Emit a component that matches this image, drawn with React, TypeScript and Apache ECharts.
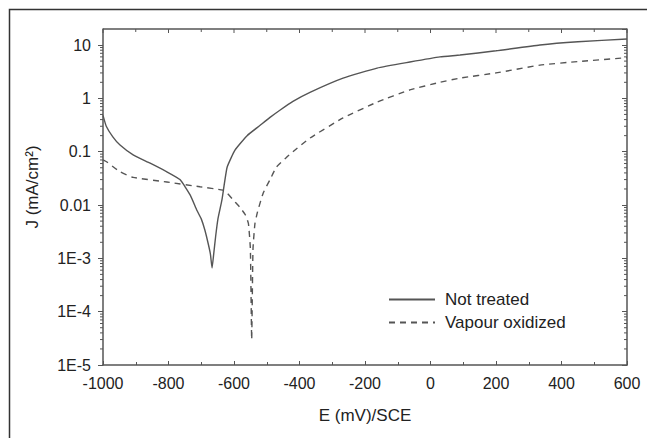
import React, { useEffect, useRef } from "react";
import * as echarts from "echarts";

// Potential (mV vs SCE)
const notTreatedE = [-1000, -990, -970, -948, -908, -856, -805, -765, -734, -713, -700, -689, -678, -672, -667, -662, -656, -649, -637, -621, -597, -560, -521, -490, -460, -420, -368, -267, -163, -63, 29, 90, 200, 334, 450, 600];
// Current density (mA/cm²)
const notTreatedJ = [0.48, 0.3, 0.19, 0.133, 0.087, 0.061, 0.042, 0.03, 0.0155, 0.0079, 0.0055, 0.0034, 0.0018, 0.0012, 0.00066, 0.0012, 0.0026, 0.0055, 0.0123, 0.051, 0.107, 0.2, 0.31, 0.44, 0.6, 0.88, 1.3, 2.4, 3.7, 4.8, 6.0, 6.5, 7.8, 10, 11.5, 13];

const vapourE = [-1000, -988, -948, -908, -805, -704, -634, -621, -600, -582, -565, -556, -550, -546, -542, -536, -528, -511, -490, -470, -440, -420, -368, -267, -163, -63, 29, 90, 200, 334, 450, 600];
const vapourJ = [0.07, 0.064, 0.042, 0.033, 0.027, 0.022, 0.019, 0.0167, 0.012, 0.0091, 0.0065, 0.0045, 0.0015, 0.00003, 0.0015, 0.0045, 0.0075, 0.0167, 0.03, 0.052, 0.078, 0.1, 0.18, 0.43, 0.85, 1.44, 2.0, 2.4, 3.0, 4.2, 4.9, 5.8];

const seriesNames = ["Not treated", "Vapour oxidized"];

const xMin = -1000;
const xMax = 600;
const xInterval = 200;
const xTopTicks = [-1000, -900, -800, -700, -600, -500, -400, -300, -200, -100, 0, 100, 200, 300, 400, 500, 600];
const yMin = 1e-5;
const yMax = 20;
const yTickValues = [1e-5, 1e-4, 1e-3, 0.01, 0.1, 1, 10];
const yTickLabels = ["1E-5", "1E-4", "1E-3", "0.01", "0.1", "1", "10"];
const yMinorTicks: number[] = [];
for (let d = -5; d <= 1; d++) {
  for (let m = 2; m <= 9; m++) {
    const v = m * Math.pow(10, d);
    if (v < yMax) yMinorTicks.push(v);
  }
}

const FONT = "'Liberation Sans', Arial, sans-serif";
const AXIS = "#555";
const TEXT = "#222";
const LINE = "#555";

export default function App() {
  const ref = useRef<HTMLDivElement>(null);
  useEffect(() => {
    if (!ref.current) return;
    const chart = echarts.init(ref.current, null, { renderer: "svg" });
    const yLabel = (v: number) => {
      for (let i = 0; i < yTickValues.length; i++) {
        if (Math.abs(Math.log10(v) - Math.log10(yTickValues[i])) < 1e-6) return yTickLabels[i];
      }
      return "";
    };
    chart.setOption({
      animation: false,
      backgroundColor: "#fff",
      textStyle: { fontFamily: FONT },
      grid: { left: 103, right: 20, top: 29, bottom: 73 },
      graphic: [
        {
          type: "rect",
          left: 7,
          top: 7,
          shape: { x: 0, y: 0, width: 700, height: 500 },
          style: { fill: null, stroke: "#333", lineWidth: 1.5 },
          silent: true,
        },
      ],
      legend: {
        data: seriesNames,
        orient: "vertical",
        left: 388,
        top: 291,
        itemWidth: 46,
        itemHeight: 12,
        itemGap: 6,
        padding: 0,
        itemStyle: { opacity: 0 },
        textStyle: { fontSize: 17, color: TEXT, fontFamily: FONT, padding: [0, 0, 0, 5] },
      },
      xAxis: [
        {
          type: "value",
          position: "bottom",
          min: xMin,
          max: xMax,
          interval: xInterval,
          name: "E (mV)/SCE",
          nameLocation: "middle",
          nameGap: 42,
          nameTextStyle: { fontSize: 17, color: TEXT, fontFamily: FONT },
          axisLine: { onZero: false, lineStyle: { color: AXIS, width: 1.5 } },
          axisTick: { inside: true, length: 4, lineStyle: { color: AXIS } },
          minorTick: { show: true, splitNumber: 2, length: 3, lineStyle: { color: AXIS } },
          axisLabel: { fontSize: 16, color: TEXT, margin: 10, fontFamily: FONT, formatter: (v: number) => String(v) },
          splitLine: { show: false },
        },
      ],
      yAxis: [
        {
          type: "log",
          logBase: 10,
          position: "left",
          min: yMin,
          max: yMax,
          name: "J (mA/cm²)",
          nameLocation: "middle",
          nameGap: 62,
          nameTextStyle: { fontSize: 17, color: TEXT, fontFamily: FONT, padding: [0, 0, 0, 20] },
          axisLine: { onZero: false, lineStyle: { color: AXIS, width: 1.5 } },
          axisTick: { inside: false, length: 5, lineStyle: { color: AXIS } },
          axisLabel: { fontSize: 16, color: TEXT, margin: 12, fontFamily: FONT, formatter: yLabel, showMaxLabel: false },
          splitLine: { show: false },
        },
        {
          type: "log",
          logBase: 10,
          position: "right",
          min: yMin,
          max: yMax,
          axisLine: { onZero: false, lineStyle: { color: AXIS, width: 1.5 } },
          axisTick: { inside: true, length: 5, lineStyle: { color: AXIS } },
          axisLabel: { show: false },
          splitLine: { show: false },
        },
      ],
      series: [
        {
          name: seriesNames[0],
          type: "line",
          xAxisIndex: 0,
          yAxisIndex: 0,
          data: notTreatedE.map((e, i) => [e, notTreatedJ[i]]),
          symbol: "none",
          smooth: 0.15,
          lineStyle: { color: LINE, width: 1.4, type: "solid" },
          itemStyle: { color: LINE },
        },
        {
          name: seriesNames[1],
          type: "line",
          xAxisIndex: 0,
          yAxisIndex: 0,
          data: vapourE.map((e, i) => [e, vapourJ[i]]),
          symbol: "none",
          smooth: 0.15,
          lineStyle: { color: LINE, width: 1.4, type: [6, 5] },
          itemStyle: { color: LINE },
        },
        {
          name: "minorTicks",
          type: "custom",
          xAxisIndex: 0,
          yAxisIndex: 0,
          silent: true,
          clip: false,
          data: yMinorTicks.map((v) => [xMin, v]),
          renderItem: (params: any, api: any) => {
            const v = api.value(1);
            const pl = api.coord([xMin, v]);
            const pr = api.coord([xMax, v]);
            return {
              type: "group",
              children: [
                { type: "line", shape: { x1: pl[0] - 3, y1: pl[1], x2: pl[0], y2: pl[1] }, style: { stroke: AXIS, lineWidth: 1 } },
                { type: "line", shape: { x1: pr[0] - 3, y1: pr[1], x2: pr[0], y2: pr[1] }, style: { stroke: AXIS, lineWidth: 1 } },
              ],
            };
          },
        },
        {
          name: "topAxis",
          type: "custom",
          xAxisIndex: 0,
          yAxisIndex: 0,
          silent: true,
          clip: false,
          data: xTopTicks.map((v) => [v, yMax]),
          renderItem: (params: any, api: any) => {
            const xv = api.value(0);
            const p = api.coord([xv, yMax]);
            const major = Math.abs(xv % xInterval) < 1e-6;
            const children: any[] = [
              { type: "line", shape: { x1: p[0], y1: p[1], x2: p[0], y2: p[1] + (major ? 4 : 3) }, style: { stroke: AXIS, lineWidth: 1 } },
            ];
            if (params.dataIndex === 0) {
              const pa = api.coord([xMin, yMax]);
              const pb = api.coord([xMax, yMax]);
              children.push({ type: "line", shape: { x1: pa[0], y1: pa[1], x2: pb[0], y2: pb[1] }, style: { stroke: AXIS, lineWidth: 1.5 } });
            }
            return { type: "group", children };
          },
        },
      ],
    });
    return () => chart.dispose();
  }, []);
  return <div ref={ref} style={{ position: "absolute", left: 0, top: 0, width: 647, height: 438 }} />;
}
